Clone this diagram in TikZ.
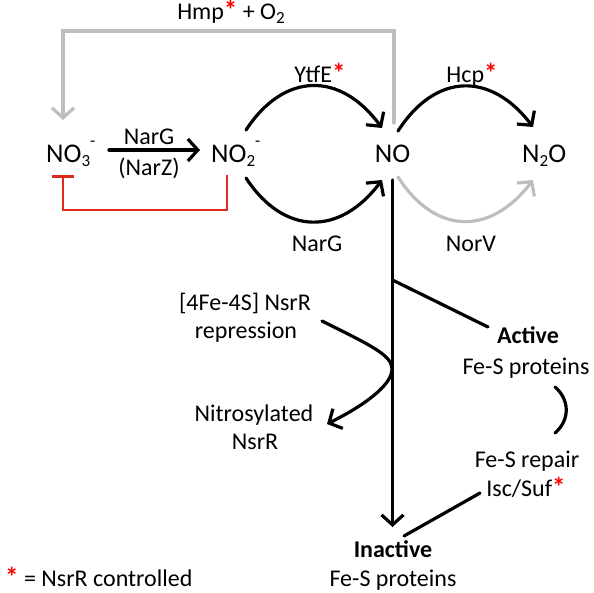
\documentclass[tikz,border=0pt]{standalone}
\usepackage{fontspec}
\setmainfont{Carlito}
\usetikzlibrary{arrows.meta,calc}
\definecolor{inhred}{RGB}{225,40,30}
\definecolor{lightgr}{RGB}{190,190,190}
\newcommand{\redstar}{\textcolor{red}{\textbf{\fontsize{27}{28}\selectfont *}}}
\newcommand{\subsc}[1]{\raisebox{-0.35ex}{\fontsize{17}{17}\selectfont #1}}
\newcommand{\supsc}[1]{\raisebox{1.2ex}{\fontsize{17}{17}\selectfont #1}}
\begin{document}
\begin{tikzpicture}[x=1pt,y=-1pt,
  lbl/.style={font=\fontsize{24}{28}\selectfont, inner sep=0pt, anchor=base},
  sp/.style={font=\fontsize{27}{32}\selectfont, inner sep=0pt, anchor=base west},
  conn/.style={line width=3.2pt, line cap=round},
  ar/.style={conn, -{Straight Barb[length=10pt,width=22pt]}},
  grar/.style={ar, draw=lightgr},
  inh/.style={line width=2.6pt, draw=inhred, -{Bar[width=22pt]}}
]
\useasboundingbox (0,0) rectangle (594,592);

% species
\node[sp] (no3) at (46,162) {NO\subsc{3}\supsc{-}};
\node[sp] (no2) at (211,162) {NO\subsc{2}\supsc{-}};
\node[sp, anchor=base] (no) at (392.5,162) {NO};
\node[sp] (n2o) at (522,162) {N\subsc{2}O};

% labels
\node[lbl] (hmp) at (231,19.5) {Hmp\redstar{} + O\subsc{2}};
\node[lbl] (narg1) at (149,144) {NarG};
\node[lbl] (narz) at (149,175) {(NarZ)};
\node[lbl] (ytfe) at (320,82) {YtfE\redstar};
\node[lbl] (hcp) at (472,82) {Hcp\redstar};
\node[lbl] (narg2) at (317,251) {NarG};
\node[lbl] (norv) at (471,251) {NorV};
\node[lbl] (fes1) at (245,310) {[4Fe-4S] NsrR};
\node[lbl] (rep) at (246,338) {repression};
\node[lbl] (nitro) at (254,421) {Nitrosylated};
\node[lbl] (nsrr) at (255,449) {NsrR};
\node[lbl, font=\fontsize{24}{28}\selectfont\bfseries] (act) at (528,343) {Active};
\node[lbl] (actfe) at (526,374) {Fe-S proteins};
\node[lbl] (repair) at (527,467) {Fe-S repair};
\node[lbl] (isc) at (526,496) {Isc/Suf\redstar};
\node[lbl, font=\fontsize{24}{28}\selectfont\bfseries] (inact) at (393,557) {Inactive};
\node[lbl] (inactfe) at (393,586) {Fe-S proteins};
\node[lbl, anchor=base west] (legend) at (5,586) {\redstar{} = NsrR controlled};

% connectors
\draw[ar] ([shift={(63,-12)}]no3.base west) -- ([shift={(-11,-12)}]no2.base west);
\draw[ar] ([shift={(35,-32)}]no2.base west) .. controls +(38,-58) and +(-42,-57) .. ([shift={(-10.5,-34)}]no.base);
\draw[ar] ([shift={(35,16)}]no2.base west) .. controls +(38,58) and +(-42,56) .. ([shift={(-10.5,18)}]no.base);
\draw[ar] ([shift={(5.5,-31)}]no.base) .. controls +(38,-59) and +(-42,-55) .. ([shift={(11,-35)}]n2o.base west);
\draw[grar] ([shift={(5.5,15)}]no.base) .. controls +(38,59) and +(-42,55) .. ([shift={(11,18)}]n2o.base west);
\draw[grar] ([shift={(1.5,-39)}]no.base) -- ++(0,-92) -| ([shift={(17,-42)}]no3.base west);
\draw[inh] ([shift={(16,13)}]no2.base west) -- ++(0,35) -| ([shift={(17,13)}]no3.base west);
\draw[ar] ([shift={(0,18)}]no.base) -- ([shift={(-0.5,-30)}]inact.base);
\draw[conn] ([shift={(0,118)}]no.base) -- ([shift={(-40,-16)}]act.base);
\draw[ar] ([shift={(76,-17)}]rep.base) .. controls +(48,24) and +(0,-14) .. ++(70,48) .. controls +(0,16) and +(38,-19) .. ([shift={(73,3)}]nitro.base);
\draw[conn] ([shift={(29,13)}]actfe.base) .. controls +(15,13) and +(15,-13) .. ([shift={(28,-34)}]repair.base);
\draw[conn] ([shift={(-46,-3)}]isc.base) -- ([shift={(11,-21)}]inact.base);
\end{tikzpicture}
\end{document}
